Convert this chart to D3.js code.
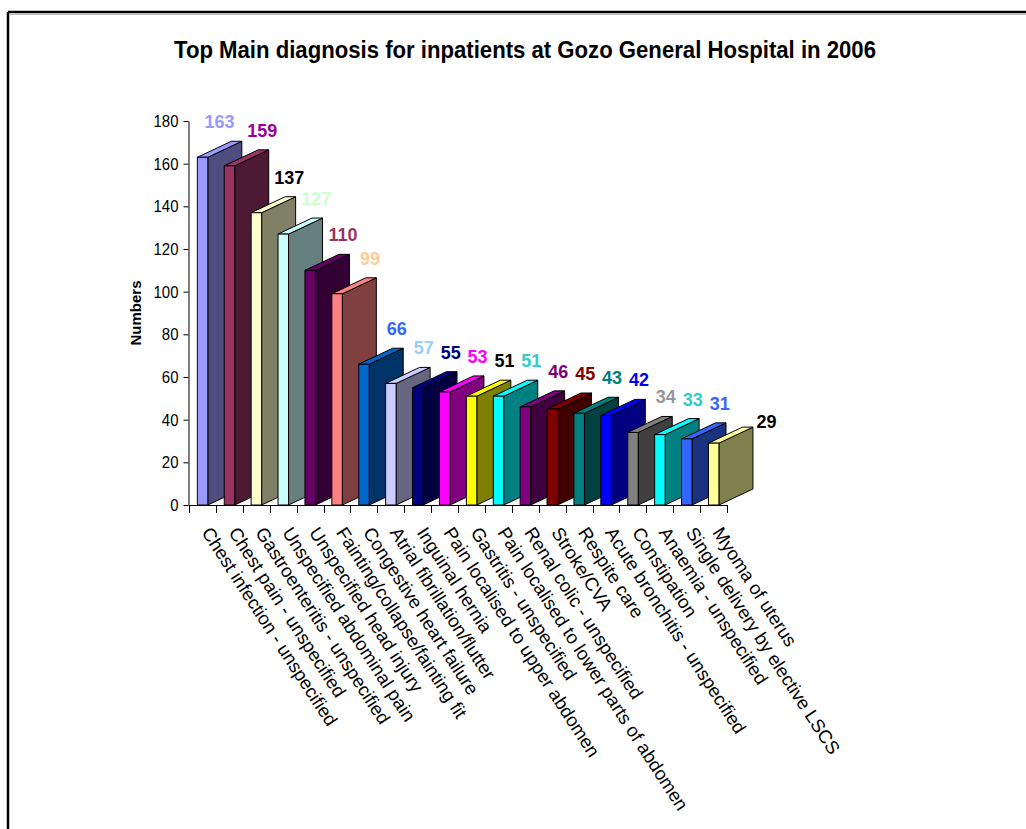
<!DOCTYPE html>
<html>
<head>
<meta charset="utf-8">
<script src="https://cdn.jsdelivr.net/npm/d3@7"></script>
<style>
  html, body { margin: 0; padding: 0; background: #fff; }
  svg { display: block; }
  text { font-family: "Liberation Sans", Arial, sans-serif; }
</style>
</head>
<body>
<svg id="chart" width="1026" height="829"></svg>
<script>
const categories = [
  "Chest infection - unspecified",
  "Chest pain - unspecified",
  "Gastroenteritis - unspecified",
  "Unspecified abdominal pain",
  "Unspecified head injury",
  "Fainting/collapse/fainting fit",
  "Congestive heart failure",
  "Atrial fibrillation/flutter",
  "Inguinal hernia",
  "Pain localised to upper abdomen",
  "Gastritis - unspecified",
  "Pain localised to lower parts of abdomen",
  "Renal colic - unspecified",
  "Stroke/CVA",
  "Respite care",
  "Acute bronchitis - unspecified",
  "Constipation",
  "Anaemia - unspecified",
  "Single delivery by elective LSCS",
  "Myoma of uterus"
];
const values = [163, 159, 137, 127, 110, 99, 66, 57, 55, 53, 51, 51, 46, 45, 43, 42, 34, 33, 31, 29];
const barColors = ["#9999FF", "#993366", "#FFFFCC", "#CCFFFF", "#660066", "#FF8080", "#0066CC", "#CCCCFF",
  "#000080", "#FF00FF", "#FFFF00", "#00FFFF", "#800080", "#800000", "#008080", "#0000FF",
  "#808080", "#00FFFF", "#3366FF", "#FFFF99"];
const labelColors = ["#9999FF", "#990099", "#000000", "#CCFFCC", "#993366", "#FFCC99", "#3366FF", "#99CCFF",
  "#000080", "#FF00FF", "#000000", "#33CCCC", "#800080", "#800000", "#008080", "#0000FF",
  "#969696", "#33CCCC", "#3366FF", "#000000"];
const yTicks = [0, 20, 40, 60, 80, 100, 120, 140, 160, 180];
const titleText = "Top Main diagnosis for inpatients at Gozo General Hospital in 2006";
const yAxisTitle = "Numbers";

const svg = d3.select("#chart");

// frame
svg.append("line").attr("x1", 8).attr("y1", 12).attr("x2", 1026).attr("y2", 12)
  .attr("stroke", "#000").attr("stroke-width", 2.5);
svg.append("line").attr("x1", 8).attr("y1", 12).attr("x2", 8).attr("y2", 829)
  .attr("stroke", "#000").attr("stroke-width", 2.5);
svg.append("line").attr("x1", 10).attr("y1", 14.5).attr("x2", 1026).attr("y2", 14.5)
  .attr("stroke", "#bbb").attr("stroke-width", 1);

// title
svg.append("text").attr("x", 525).attr("y", 58).attr("text-anchor", "middle")
  .attr("font-size", 23).attr("font-weight", "bold")
  .attr("textLength", 702).attr("lengthAdjust", "spacingAndGlyphs")
  .text(titleText);

const x = d3.scaleBand().domain(categories).range([189, 727]).paddingInner(0).paddingOuter(0);
const y = d3.scaleLinear().domain([0, 180]).range([505, 121]);
const bw = x.bandwidth();
const depthX = 34, depthY = 16;

// y axis
const yAxis = d3.axisLeft(y).tickValues(yTicks).tickSize(5).tickPadding(5).tickSizeOuter(0);
const gy = svg.append("g").attr("transform", "translate(188.5,0)").call(yAxis);
gy.selectAll("text").attr("font-size", 17).attr("font-family", "Liberation Sans, Arial, sans-serif")
  .attr("fill", "#000").attr("transform", "scale(0.88,1)")
  .attr("x", -10 / 0.88);
gy.select(".domain").attr("stroke", "#000");
gy.selectAll(".tick line").attr("stroke", "#000");

// y axis title
svg.append("text").attr("transform", "translate(141,313) rotate(-90)")
  .attr("text-anchor", "middle").attr("font-size", 15).attr("font-weight", "bold")
  .text(yAxisTitle);

// bars
const gBars = svg.append("g");
categories.forEach((c, i) => {
  const v = values[i];
  const x0 = x(c) + bw * 0.31;
  const x1 = x0 + bw * 0.39;
  const yt = y(v), yb = y(0);
  const col = d3.color(barColors[i]);
  const dark = d3.rgb(col.r * 0.5, col.g * 0.5, col.b * 0.5);
  const g = gBars.append("g").attr("stroke", "#000").attr("stroke-width", 1).attr("stroke-linejoin", "round");
  g.append("path").attr("d", `M${x1},${yb} L${x1 + depthX},${yb - depthY} L${x1 + depthX},${yt - depthY} L${x1},${yt} Z`)
    .attr("fill", dark.formatHex());
  g.append("path").attr("d", `M${x0},${yt} L${x0 + depthX},${yt - depthY} L${x1 + depthX},${yt - depthY} L${x1},${yt} Z`)
    .attr("fill", col.formatHex());
  g.append("rect").attr("x", x0).attr("y", yt).attr("width", x1 - x0).attr("height", yb - yt)
    .attr("fill", col.formatHex());
});

// x axis
const xAxisLine = svg.append("g");
xAxisLine.append("line").attr("x1", 189).attr("x2", 727).attr("y1", 505.5).attr("y2", 505.5).attr("stroke", "#000");
const tickPos = categories.map(c => x(c)).concat([x(categories[categories.length - 1]) + bw]);
xAxisLine.selectAll("line.t").data(tickPos).enter().append("line").attr("class", "t")
  .attr("x1", d => Math.round(d) + 0.5).attr("x2", d => Math.round(d) + 0.5)
  .attr("y1", 505).attr("y2", 513).attr("stroke", "#000");

// value labels
const nudgeX = i => (i === 0 ? -16 : i === values.length - 1 ? 20 : 0);
const nudgeY = i => (i === values.length - 1 ? 14 : 0);
svg.append("g").selectAll("text").data(values).enter().append("text")
  .attr("x", (d, i) => x(categories[i]) + bw / 2 + 33 + nudgeX(i))
  .attr("y", (d, i) => y(d) - 29 + nudgeY(i))
  .attr("text-anchor", "middle").attr("font-size", 18).attr("font-weight", "bold")
  .attr("fill", (d, i) => labelColors[i])
  .text(d => d);

// category labels
svg.append("g").selectAll("text").data(categories).enter().append("text")
  .attr("transform", d => `translate(${x(d) + bw / 2 + 4},${529}) rotate(57)`)
  .attr("dy", "0.35em")
  .attr("font-size", 18.5)
  .attr("fill", "#000")
  .text(d => d);
</script>
</body>
</html>
